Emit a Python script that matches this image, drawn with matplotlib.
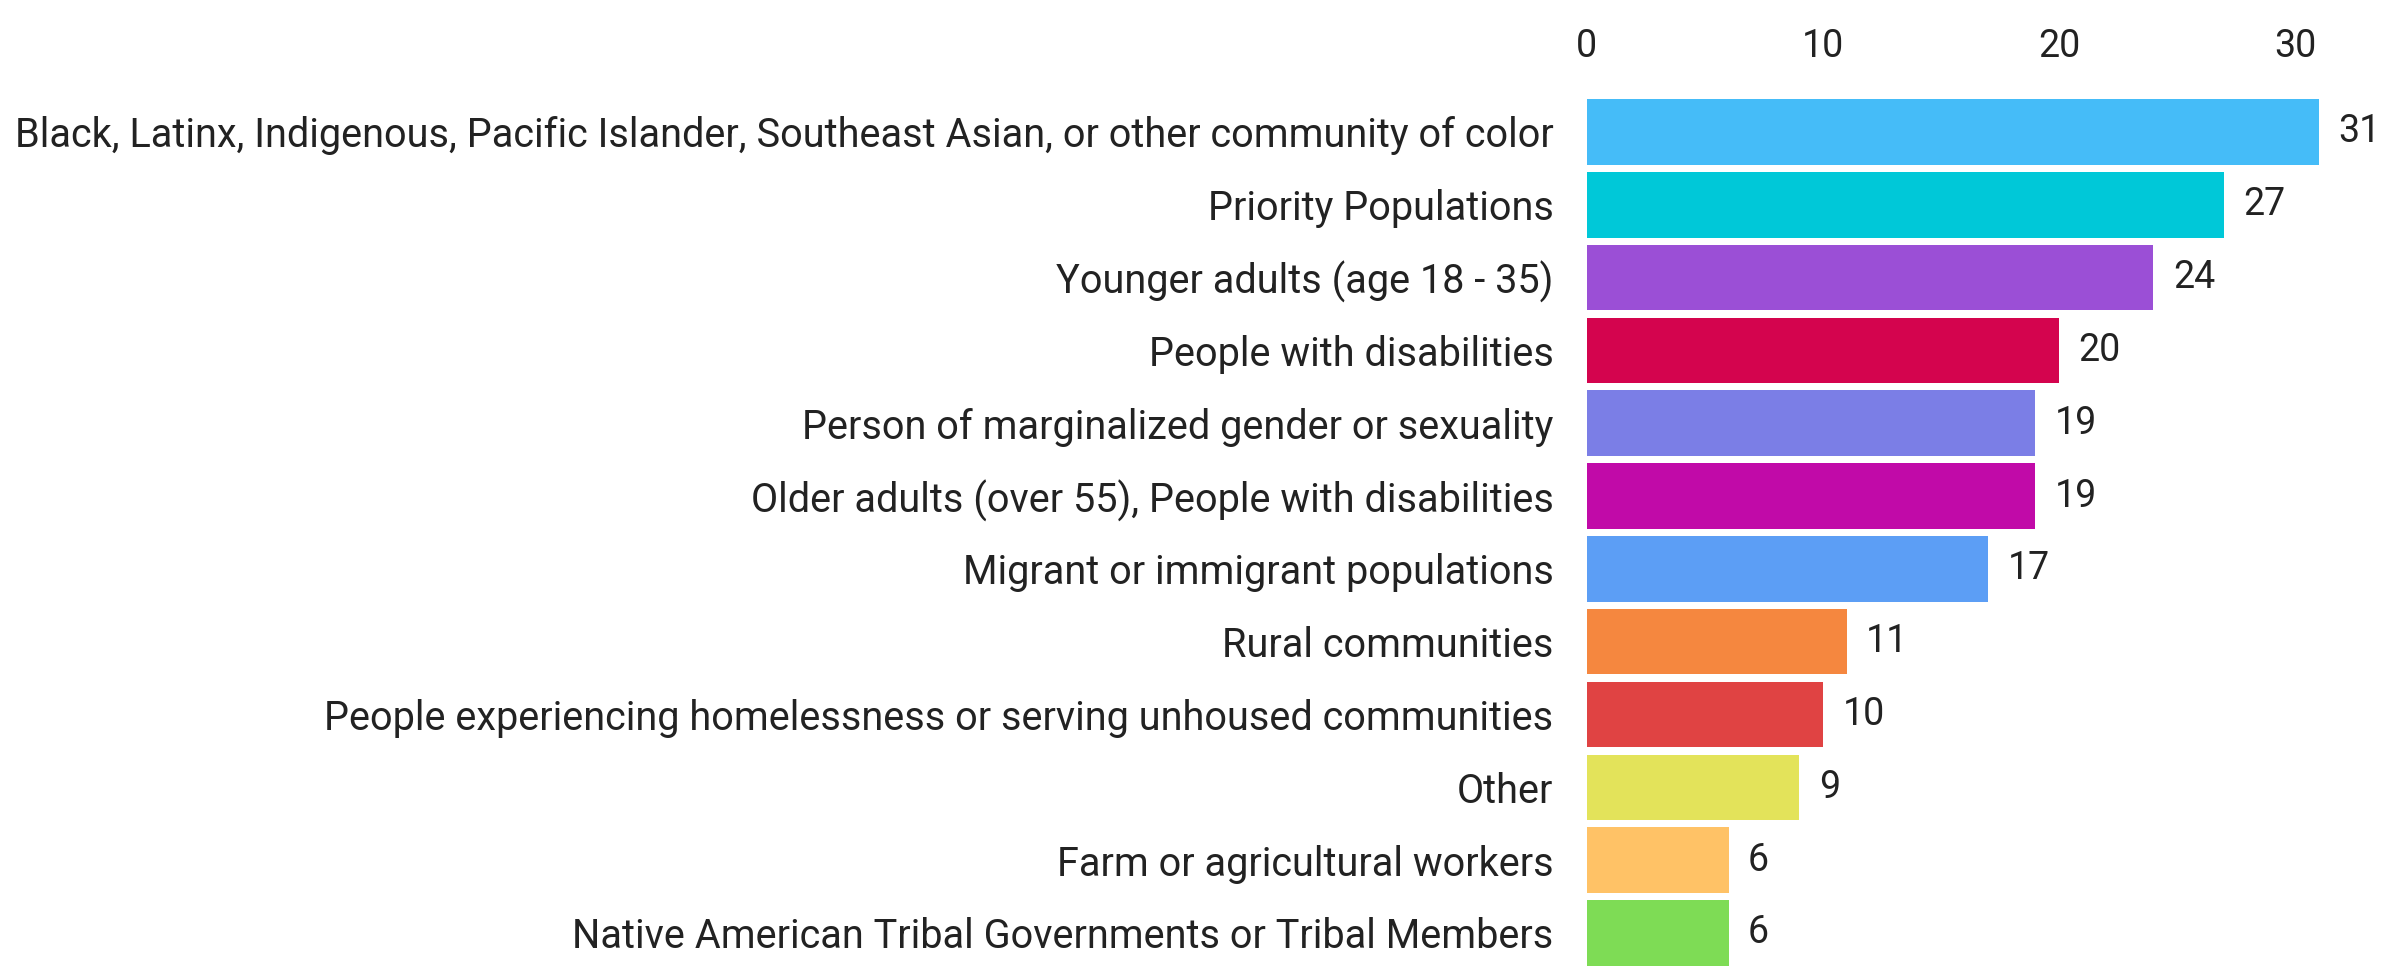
import matplotlib
matplotlib.use("Agg")
import matplotlib.pyplot as plt

categories = [
    "Black, Latinx, Indigenous, Pacific Islander, Southeast Asian, or other community of color",
    "Priority Populations",
    "Younger adults (age 18 - 35)",
    "People with disabilities",
    "Person of marginalized gender or sexuality",
    "Older adults (over 55), People with disabilities",
    "Migrant or immigrant populations",
    "Rural communities",
    "People experiencing homelessness or serving unhoused communities",
    "Other",
    "Farm or agricultural workers",
    "Native American Tribal Governments or Tribal Members",
]
counts = [31, 27, 24, 20, 19, 19, 17, 11, 10, 9, 6, 6]
bar_colors = ["#45bcf8", "#00c8d8", "#9b4fd6", "#d4044e", "#7b7ee6", "#c10aa8",
              "#5c9ef5", "#f5873f", "#e04343", "#e3e35a", "#ffc266", "#7edc55"]
xticks = [0, 10, 20, 30]

plt.rcParams['font.family'] = ['Roboto', 'DejaVu Sans']
text_color = "#222222"

fig = plt.figure(figsize=(24.07, 9.72), dpi=100)
ax = fig.add_axes([0.6593, 0.0027, 0.3334, 0.899])

ypos = list(range(len(categories)))
bars = ax.barh(ypos, counts, height=0.9, color=bar_colors)
ax.bar_label(bars, labels=[str(c) for c in counts], padding=14,
             fontsize=27, color=text_color)

ax.set_xlim(0, 34)
ax.set_ylim(len(categories) - 0.5, -0.5)
ax.set_yticks(ypos)
ax.set_yticklabels(categories, fontsize=28.5, color=text_color)
ax.set_xticks(xticks)
ax.xaxis.tick_top()
ax.tick_params(axis='x', length=0, pad=22, labelsize=27, labelcolor=text_color)
ax.tick_params(axis='y', length=0, pad=24)
for s in ax.spines.values():
    s.set_visible(False)

fig.savefig("out.png", dpi=100)
